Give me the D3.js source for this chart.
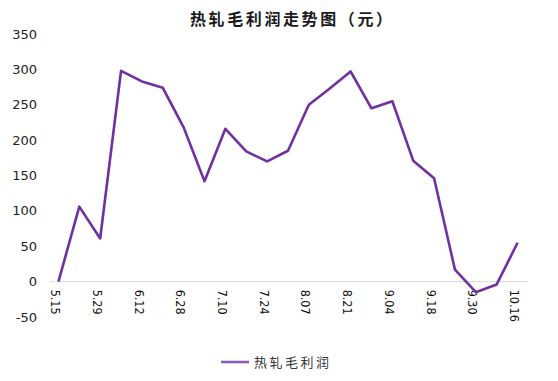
<!DOCTYPE html>
<html>
<head>
<meta charset="utf-8">
<script src="https://cdn.jsdelivr.net/npm/d3@7"></script>
<style>
  body { margin: 0; background: #fff; }
  svg { display: block; }
</style>
</head>
<body>
<div id="chart"></div>
<script>
const dates = ["5.15", "5.22", "5.29", "6.05", "6.12", "6.19", "6.28", "7.03", "7.10", "7.17",
  "7.24", "7.31", "8.07", "8.14", "8.21", "8.28", "9.04", "9.11", "9.18", "9.25",
  "9.30", "10.09", "10.16"];
const profit = [0, 106, 61, 298, 283, 274, 218, 142, 216, 184,
  170, 185, 250, 273, 297, 245, 255, 171, 146, 17,
  -15, -4, 55];
const yTicks = [-50, 0, 50, 100, 150, 200, 250, 300, 350];
const seriesName = "热轧毛利润";
const title = "热轧毛利润走势图（元）";

const width = 558, height = 381;
const margin = { top: 34, right: 30, bottom: 64, left: 48 };
const lineColor = "#7030A0";

const svg = d3.select("#chart").append("svg")
  .attr("width", width)
  .attr("height", height);

const x = d3.scaleBand()
  .domain(dates)
  .range([margin.left, width - margin.right]);

const y = d3.scaleLinear()
  .domain([-50, 350])
  .range([height - margin.bottom, margin.top]);

// title
svg.append("text")
  .attr("x", 190)
  .attr("y", 25)
  .attr("text-anchor", "start")
  .attr("font-family", "'Noto Sans CJK SC', sans-serif")
  .attr("font-size", 16)
  .attr("font-weight", "bold")
  .attr("letter-spacing", 2.6)
  .attr("fill", "#1a1a1a")
  .text(title);

// y labels (no axis line)
svg.append("g")
  .selectAll("text")
  .data(yTicks)
  .enter()
  .append("text")
  .attr("x", 37)
  .attr("y", (d) => y(d))
  .attr("dy", "0.35em")
  .attr("text-anchor", "end")
  .attr("font-family", "'DejaVu Sans', Verdana, sans-serif")
  .attr("font-size", 13)
  .attr("fill", "#222")
  .text((d) => d);

// zero line
svg.append("line")
  .attr("x1", margin.left + 2)
  .attr("x2", width - margin.right)
  .attr("y1", y(0))
  .attr("y2", y(0))
  .attr("stroke", "#d9d9d9")
  .attr("stroke-width", 1);

// x labels, every other date, rotated
svg.append("g")
  .selectAll("text")
  .data(dates.filter((d, i) => i % 2 === 0))
  .enter()
  .append("text")
  .attr("transform", (d) => `translate(${x(d) + x.bandwidth() / 2 - 3},${y(0) + 8}) rotate(90)`)
  .attr("dy", "0.35em")
  .attr("text-anchor", "start")
  .attr("font-family", "'DejaVu Sans Condensed', 'DejaVu Sans', sans-serif")
  .attr("font-size", 12.5)
  .attr("fill", "#111")
  .text((d) => d);

const line = d3.line()
  .x((d, i) => x(dates[i]) + x.bandwidth() / 2)
  .y((d) => y(d));

svg.append("path")
  .datum(profit)
  .attr("d", line)
  .attr("fill", "none")
  .attr("stroke", lineColor)
  .attr("stroke-width", 2.6)
  .attr("stroke-linejoin", "round");

// legend
const legend = svg.append("g").attr("transform", "translate(221,362)");
legend.append("line")
  .attr("x1", 0).attr("x2", 28)
  .attr("y1", 0).attr("y2", 0)
  .attr("stroke", "#8E5CB5")
  .attr("stroke-width", 2.6);
legend.append("text")
  .attr("x", 33)
  .attr("y", 0)
  .attr("dy", "0.35em")
  .attr("font-family", "'Noto Sans CJK SC', sans-serif")
  .attr("font-size", 13)
  .attr("letter-spacing", 2.5)
  .attr("fill", "#333")
  .text(seriesName);
</script>
</body>
</html>
